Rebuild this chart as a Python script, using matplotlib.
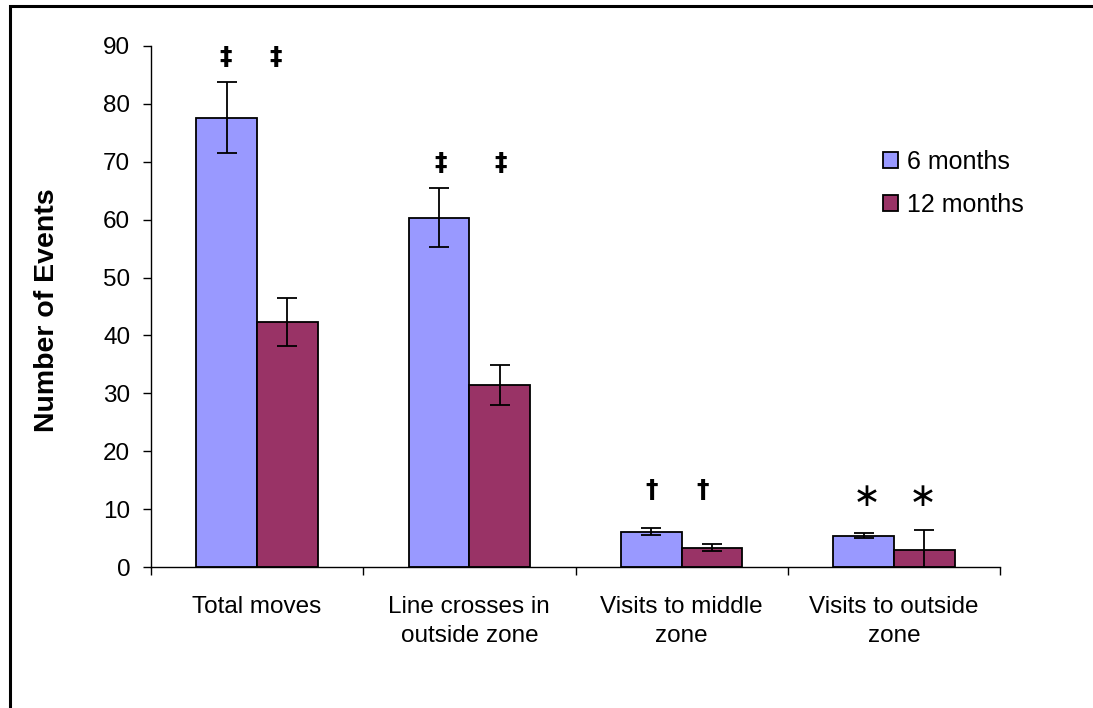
import matplotlib
matplotlib.use("Agg")
import matplotlib.pyplot as plt
import numpy as np
from matplotlib.patches import Rectangle

categories = ["Total moves", "Line crosses in\noutside zone",
              "Visits to middle\nzone", "Visits to outside\nzone"]
series_names = ["6 months", "12 months"]
six_months = [77.6, 60.3, 6.1, 5.4]
six_err = [6.1, 5.1, 0.65, 0.4]
twelve_months = [42.3, 31.4, 3.3, 3.0]
twelve_err = [4.2, 3.5, 0.6, 3.4]
sig_symbols = ["‡", "‡", "†", "∗"]
sig_heights = [88.1, 69.8, 13.3, 12.1]
yticks = list(range(0, 91, 10))

# layout constants
sig_dx = [(-0.148, 0.087), (-0.134, 0.148), (-0.139, 0.101), (-0.126, 0.138)]

plt.rcParams['font.family'] = ['Liberation Sans', 'DejaVu Sans']

fig = plt.figure(figsize=(10.93, 7.08), dpi=100)
ax = fig.add_axes([151/1093, 1-567/708, (1000-151)/1093, (567-46)/708])

x = np.arange(len(categories))
w = 0.2857
blue = "#9999FF"
purple = "#993366"
ax.bar(x - w/2, six_months, w, color=blue, edgecolor="black", linewidth=1.3,
       label=series_names[0], zorder=2)
ax.bar(x + w/2, twelve_months, w, color=purple, edgecolor="black", linewidth=1.3,
       label=series_names[1], zorder=2)
ax.errorbar(x - w/2, six_months, yerr=six_err, fmt="none", ecolor="black",
            elinewidth=1.3, capsize=7, capthick=1.3, zorder=3)
ax.errorbar(x + w/2, twelve_months, yerr=twelve_err, fmt="none", ecolor="black",
            elinewidth=1.3, capsize=7, capthick=1.3, zorder=3)

for i, (sym, h) in enumerate(zip(sig_symbols, sig_heights)):
    for dx in sig_dx[i]:
        if sym == "∗":
            ax.text(i + dx, h, sym, ha="center", va="center", fontsize=24,
                    fontweight="normal", family="DejaVu Sans")
        else:
            ax.text(i + dx, h, sym, ha="center", va="center", fontsize=18,
                    fontweight="bold", family="DejaVu Sans")

ax.set_xlim(-0.5, len(categories) - 0.5)
ax.set_ylim(0, 90)
ax.set_yticks(yticks)
ax.tick_params(axis="y", direction="out", length=6, width=1, labelsize=17.5, pad=9)
ax.set_xticks(x)
ax.set_xticklabels(categories, fontsize=17.5, linespacing=1.4)
ax.tick_params(axis="x", which="major", length=0, pad=21)
ax.set_xticks(np.arange(-0.5, len(categories)), minor=True)
ax.tick_params(axis="x", which="minor", direction="out", length=6, width=1)
for s in ["top", "right"]:
    ax.spines[s].set_visible(False)
ax.spines["left"].set_linewidth(1)
ax.spines["bottom"].set_linewidth(1)

fig.text(47/1093, 1-310/708, "Number of Events", rotation=90, ha="center",
         va="center", fontsize=20.5, fontweight="bold")

leg = ax.legend(loc="upper left", bbox_to_anchor=(883/1093, 1-150/708),
                bbox_transform=fig.transFigure, frameon=False, fontsize=18,
                handlelength=0.6, handleheight=0.6, handletextpad=0.35,
                labelspacing=0.75, borderpad=0, borderaxespad=0)

fig.patches.append(Rectangle((10/1093, -0.1), 1.5, 1.1 - 6/708, fill=False,
                             edgecolor="black", linewidth=2.2,
                             transform=fig.transFigure, figure=fig))

fig.savefig("out.png", dpi=100)
